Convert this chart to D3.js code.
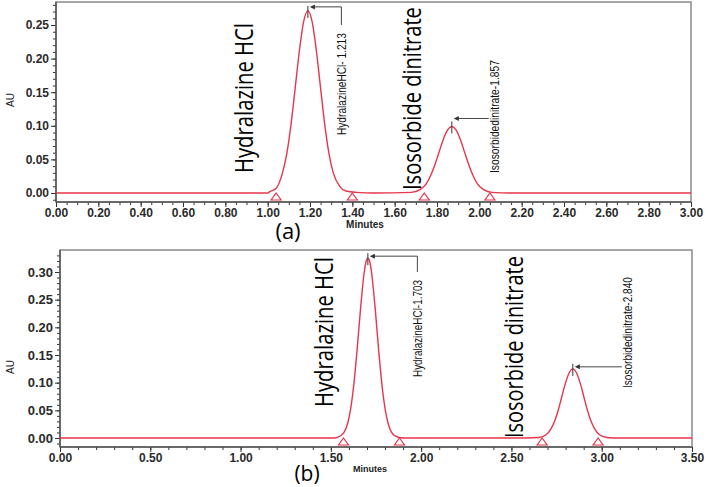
<!DOCTYPE html>
<html>
<head>
<meta charset="utf-8">
<script src="https://cdn.jsdelivr.net/npm/d3@7"></script>
<style>
  body { margin: 0; background: #fff; }
  svg { display: block; }
</style>
</head>
<body>
<div id="chart"></div>
<script>
// ---- panel (a) values ----
var minutesTicksA = [0, 0.2, 0.4, 0.6, 0.8, 1.0, 1.2, 1.4, 1.6, 1.8, 2.0, 2.2, 2.4, 2.6, 2.8, 3.0];
var auTicksA = [0, 0.05, 0.10, 0.15, 0.20, 0.25];
var traceA = [
  [0, 0], [0.5, 0], [1.0, 0], [1.01, 0.002], [1.04, 0.007], [1.07, 0.030], [1.09, 0.058],
  [1.11, 0.101], [1.13, 0.156], [1.15, 0.212], [1.17, 0.255], [1.19, 0.271], [1.21, 0.255],
  [1.23, 0.212], [1.25, 0.156], [1.27, 0.101], [1.29, 0.058], [1.31, 0.030], [1.34, 0.010],
  [1.37, 0.003], [1.42, 0.001], [1.50, 0], [1.68, 0.001], [1.72, 0.005], [1.75, 0.014],
  [1.77, 0.026], [1.79, 0.042], [1.81, 0.061], [1.83, 0.080], [1.85, 0.094], [1.87, 0.099],
  [1.89, 0.094], [1.91, 0.080], [1.93, 0.061], [1.95, 0.042], [1.97, 0.026], [1.99, 0.014],
  [2.02, 0.005], [2.06, 0.001], [2.15, 0], [3.0, 0]
];
var markersA = [1.04, 1.40, 1.74, 2.05];
var peakLabelsA = ["HydralazineHCl- 1.213", "Isosorbidedinitrate-1.857"];
var apexA = [[1.19, 0.271], [1.87, 0.099]];

// ---- panel (b) values ----
var minutesTicksB = [0, 0.5, 1.0, 1.5, 2.0, 2.5, 3.0, 3.5];
var auTicksB = [0, 0.05, 0.10, 0.15, 0.20, 0.25, 0.30];
var traceB = [
  [0, 0], [1.0, 0], [1.52, 0], [1.555, 0.004], [1.585, 0.018], [1.605, 0.044], [1.625, 0.090],
  [1.645, 0.158], [1.665, 0.236], [1.685, 0.300], [1.695, 0.319], [1.705, 0.325], [1.715, 0.319],
  [1.725, 0.300], [1.745, 0.236], [1.765, 0.158], [1.785, 0.090], [1.805, 0.044], [1.825, 0.018],
  [1.855, 0.004], [1.90, 0], [2.5, 0], [2.65, 0.001], [2.69, 0.0055], [2.72, 0.017], [2.74, 0.031],
  [2.76, 0.051], [2.78, 0.076], [2.80, 0.100], [2.82, 0.118], [2.84, 0.125], [2.86, 0.118],
  [2.88, 0.100], [2.90, 0.076], [2.92, 0.051], [2.94, 0.031], [2.96, 0.017], [2.99, 0.0055],
  [3.03, 0.001], [3.10, 0], [3.5, 0]
];
var markersB = [1.57, 1.88, 2.67, 2.98];
var peakLabelsB = ["HydralazineHCl-1.703", "Isosorbidedinitrate-2.840"];
var apexB = [[1.705, 0.325], [2.84, 0.125]];

var compounds = ["Hydralazine HCl", "Isosorbide dinitrate"];
var panelTags = ["(a)", "(b)"];

var red = "#e8344c";

var svg = d3.select("#chart").append("svg")
  .attr("width", 708)
  .attr("height", 487)
  .style("font-family", "'Liberation Sans', Arial, sans-serif");

// rotated text squeezed to a given length (glyphs scaled, not clipped)
function vtext(g, x, y, len, str) {
  var t = g.append("text").text(str);
  var w = t.node().getComputedTextLength();
  var k = w > 0 ? len / w : 1;
  t.attr("transform", "translate(" + x + "," + y + ") rotate(-90) scale(" + k + ",1)");
  return t;
}

var panels = [
  {
    tag: panelTags[0], trace: traceA, markers: markersA, labels: peakLabelsA, apex: apexA,
    xTicks: minutesTicksA, yTicks: auTicksA, xDomain: [0, 3], xRange: [56, 691],
    yDomain: [0, 0.25], yRange: [193, 25],
    box: {l: 56, t: 2, r: 691, b: 202},
    xMinor: d3.range(0, 3.001, 0.05), yMinor: d3.range(-0.01, 0.285, 0.01),
    tickFont: 12, yTickFont: 12,
    big: [{x: 253, y: 173, len: 150}, {x: 421, y: 190, len: 183}],
    notes: [{dx: 38, bottom: 135, len: 102, ay: -4, drop: true},
            {dx: 47, bottom: 173, len: 113, ay: -8, drop: false}],
    tagPos: {x: 288, y: 239, size: 22}, minutes: {x: 365, y: 228, size: 10}, au: {x: 14, y: 100}
  },
  {
    tag: panelTags[1], trace: traceB, markers: markersB, labels: peakLabelsB, apex: apexB,
    xTicks: minutesTicksB, yTicks: auTicksB, xDomain: [0, 3.5], xRange: [60, 692],
    yDomain: [0, 0.30], yRange: [438, 272],
    box: {l: 60, t: 250, r: 692, b: 447},
    xMinor: d3.range(0, 3.501, 0.1), yMinor: d3.range(-0.01, 0.335, 0.01),
    tickFont: 12, yTickFont: 13,
    big: [{x: 333, y: 407, len: 150}, {x: 523, y: 438, len: 182}],
    notes: [{dx: 54, bottom: 377, len: 97, ay: -2, drop: true},
            {dx: 59, bottom: 388, len: 111, ay: -2, drop: false}],
    tagPos: {x: 307, y: 481, size: 21}, minutes: {x: 370, y: 472, size: 9}, au: {x: 14, y: 367}
  }
];

panels.forEach(function(p) {
  var x = d3.scaleLinear().domain(p.xDomain).range(p.xRange);
  var y = d3.scaleLinear().domain(p.yDomain).range(p.yRange);
  var g = svg.append("g");

  // frame
  g.append("rect")
    .attr("x", p.box.l).attr("y", p.box.t)
    .attr("width", p.box.r - p.box.l).attr("height", p.box.b - p.box.t)
    .attr("fill", "none").attr("stroke", "#8a8a8a").attr("stroke-width", 1.5);

  // minor ticks
  g.append("g")
    .attr("transform", "translate(0," + p.box.b + ")")
    .call(d3.axisBottom(x).tickValues(p.xMinor).tickSize(3).tickFormat(""))
    .call(function(a) { a.select(".domain").remove(); });
  g.append("g")
    .attr("transform", "translate(" + p.box.l + ",0)")
    .call(d3.axisLeft(y).tickValues(p.yMinor).tickSize(3).tickFormat(""))
    .call(function(a) { a.select(".domain").remove(); });

  // major ticks + labels
  var xa = g.append("g")
    .attr("transform", "translate(0," + p.box.b + ")")
    .call(d3.axisBottom(x).tickValues(p.xTicks).tickFormat(d3.format(".2f")).tickSize(5).tickPadding(1));
  var ya = g.append("g")
    .attr("transform", "translate(" + p.box.l + ",0)")
    .call(d3.axisLeft(y).tickValues(p.yTicks).tickFormat(d3.format(".2f")).tickSize(5).tickPadding(2));
  [xa, ya].forEach(function(a) {
    a.select(".domain").remove();
    a.selectAll("text").attr("font-family", "'Liberation Sans', Arial, sans-serif")
      .attr("font-weight", "bold").attr("fill", "#2a2a2a");
  });
  xa.selectAll("text").attr("font-size", p.tickFont);
  ya.selectAll("text").attr("font-size", p.yTickFont);
  g.selectAll(".tick line").attr("stroke", "#333");

  // left and bottom axis lines
  g.append("line").attr("x1", p.box.l).attr("x2", p.box.l).attr("y1", p.box.t).attr("y2", p.box.b)
    .attr("stroke", "#555").attr("stroke-width", 1.5);
  g.append("line").attr("x1", p.box.l).attr("x2", p.box.r).attr("y1", p.box.b).attr("y2", p.box.b)
    .attr("stroke", "#555").attr("stroke-width", 1.5);

  // trace
  var line = d3.line()
    .x(function(d) { return x(d[0]); })
    .y(function(d) { return y(d[1]); })
    .curve(d3.curveMonotoneX);
  g.append("path").datum(p.trace)
    .attr("d", line)
    .attr("fill", "none").attr("stroke", red).attr("stroke-width", 1.4);

  // integration markers
  g.selectAll(".mark").data(p.markers).enter().append("path")
    .attr("d", function(d) {
      var cx = x(d), cy = y(0);
      return "M" + cx + "," + cy + "L" + (cx + 5) + "," + (cy + 7) + "L" + (cx - 5) + "," + (cy + 7) + "Z";
    })
    .attr("fill", "none").attr("stroke", red).attr("stroke-width", 1.2);

  // peak annotations
  p.apex.forEach(function(a, i) {
    var n = p.notes[i];
    var ax = x(a[0]), ay = y(a[1]);
    var bx = ax + n.dx;
    var top = n.bottom - n.len;
    var arrowY = ay + n.ay;
    var endX = n.drop ? bx - 4.5 : bx - 10;
    g.append("line").attr("x1", ax).attr("x2", ax).attr("y1", ay - 5).attr("y2", ay + 7)
      .attr("stroke", "#333").attr("stroke-width", 1);
    var path = "M" + endX + "," + arrowY + "L" + (ax + 4) + "," + arrowY;
    if (n.drop) path = "M" + endX + "," + (top - 8) + "L" + endX + "," + arrowY + "L" + (ax + 4) + "," + arrowY;
    g.append("path").attr("d", path).attr("fill", "none").attr("stroke", "#444").attr("stroke-width", 1);
    g.append("path")
      .attr("d", "M" + (ax + 2) + "," + arrowY + "L" + (ax + 7) + "," + (arrowY - 2.5) + "L" + (ax + 7) + "," + (arrowY + 2.5) + "Z")
      .attr("fill", "#333");
    var lab = g.append("g")
      .attr("font-family", "'Liberation Sans Narrow', 'Liberation Sans', Arial, sans-serif")
      .attr("font-size", 12)
      .attr("fill", "#111");
    vtext(lab, bx, n.bottom, n.len, p.labels[i]);
  });

  // compound names
  p.big.forEach(function(b, i) {
    var cg = g.append("g")
      .attr("font-family", "'Open Sans', 'Noto Sans', sans-serif")
      .attr("font-size", 25)
      .attr("fill", "#000");
    vtext(cg, b.x, b.y, b.len, compounds[i]);
  });

  // axis titles and panel tag
  g.append("text")
    .attr("transform", "translate(" + p.au.x + "," + p.au.y + ") rotate(-90)")
    .attr("text-anchor", "middle").attr("font-size", 10).attr("fill", "#222")
    .text("AU");
  g.append("text")
    .attr("x", p.minutes.x).attr("y", p.minutes.y)
    .attr("text-anchor", "middle").attr("font-size", p.minutes.size)
    .attr("font-weight", "bold").attr("fill", "#222")
    .text("Minutes");
  g.append("text")
    .attr("x", p.tagPos.x).attr("y", p.tagPos.y)
    .attr("text-anchor", "middle")
    .attr("font-family", "'Open Sans', 'Noto Sans', sans-serif")
    .attr("font-size", p.tagPos.size).attr("fill", "#000")
    .text(p.tag);
});
</script>
</body>
</html>
